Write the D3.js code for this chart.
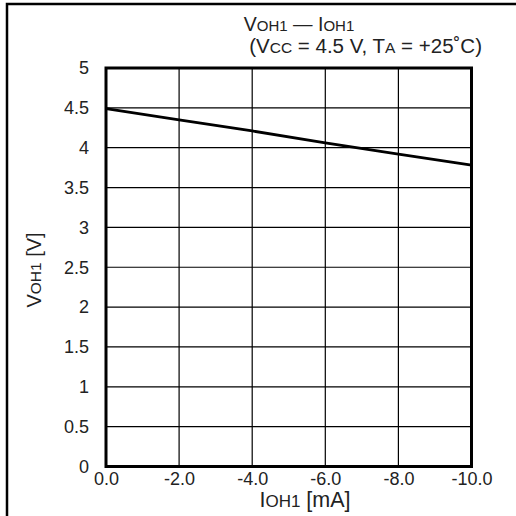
<!DOCTYPE html>
<html><head><meta charset="utf-8">
<script src="https://cdn.jsdelivr.net/npm/d3@7"></script>
<style>html,body{margin:0;padding:0;background:#fff;}svg{display:block;font-family:"Liberation Sans",Arial,sans-serif;}</style>
</head><body>
<script>
const currents = [0, -2, -4, -6, -8, -10];
const voltages = [4.49, 4.35, 4.21, 4.06, 3.92, 3.78];
const xTicks = [0, -2, -4, -6, -8, -10];
const yTicks = [0, 0.5, 1, 1.5, 2, 2.5, 3, 3.5, 4, 4.5, 5];

const W = 516, H = 516;
const svg = d3.select("body").append("svg").attr("width", W).attr("height", H);

// outer frame fragments
svg.append("path").attr("d", "M7,516 V4 H516").attr("fill", "none").attr("stroke", "#000").attr("stroke-width", 2.5);

const L = 106, R = 471.5, T = 68, B = 466.5;
const x = d3.scaleLinear().domain([0, -10]).range([L, R]);
const y = d3.scaleLinear().domain([0, 5]).range([B, T]);
const FONT = "Liberation Sans, Arial, sans-serif";
const TXT = "#222";

// grid
const g = svg.append("g");
g.selectAll(".vg").data(xTicks.slice(1, -1)).join("line")
  .attr("x1", d => x(d)).attr("x2", d => x(d)).attr("y1", T).attr("y2", B)
  .attr("stroke", "#000").attr("stroke-width", 1.2);
g.selectAll(".hg").data(yTicks.slice(1, -1)).join("line")
  .attr("x1", L).attr("x2", R).attr("y1", d => y(d)).attr("y2", d => y(d))
  .attr("stroke", "#000").attr("stroke-width", 1.2);

// axes labels via d3 axes
const xAxis = svg.append("g").attr("transform", `translate(0,${B})`)
  .call(d3.axisBottom(x).tickValues(xTicks).tickSize(0).tickPadding(6)
    .tickFormat(d => d3.format(".1f")(d).replace("\u2212", "-")));
xAxis.select(".domain").remove();
xAxis.selectAll("text").attr("font-size", 18).attr("fill", TXT).attr("font-family", FONT);

const yAxis = svg.append("g").attr("transform", `translate(${L},0)`)
  .call(d3.axisLeft(y).tickValues(yTicks).tickSize(0).tickPadding(17).tickFormat(d => String(d)));
yAxis.select(".domain").remove();
yAxis.selectAll("text").attr("font-size", 18).attr("fill", TXT).attr("font-family", FONT);

// plot frame
svg.append("rect").attr("x", L).attr("y", T).attr("width", R - L).attr("height", B - T)
  .attr("fill", "none").attr("stroke", "#000").attr("stroke-width", 3);

// curve
const line = d3.line().x((d, i) => x(currents[i])).y(d => y(d));
svg.append("path").datum(voltages).attr("d", line)
  .attr("fill", "none").attr("stroke", "#000").attr("stroke-width", 2.8);

// titles
function rich(parent, parts, attrs) {
  const t = parent.append("text");
  Object.entries(attrs).forEach(([k, v]) => t.attr(k, v));
  parts.forEach(p => t.append("tspan").attr("font-size", p[1]).text(p[0]));
  return t;
}
rich(svg, [["V", 19.5], ["OH1", 15], [" \u2014 ", 19.5], ["I", 19.5], ["OH1", 15]],
  { x: 299, y: 30.5, "text-anchor": "middle", fill: TXT });
rich(svg, [["(V", 20.5], ["CC", 15.5], [" = 4.5 V, T", 20.5], ["A", 15.5], [" = +25\u02DAC)", 20.5]],
  { x: 482, y: 53, "text-anchor": "end", fill: TXT });

// axis titles
rich(svg, [["I", 21.5], ["OH1", 17], [" [mA]", 21.5]],
  { x: 305, y: 507, "text-anchor": "middle", fill: TXT });
rich(svg, [["V", 20], ["OH1", 15.5], [" [V]", 20]],
  { transform: "translate(41,270) rotate(-90)", "text-anchor": "middle", fill: TXT });
</script>
</body></html>
